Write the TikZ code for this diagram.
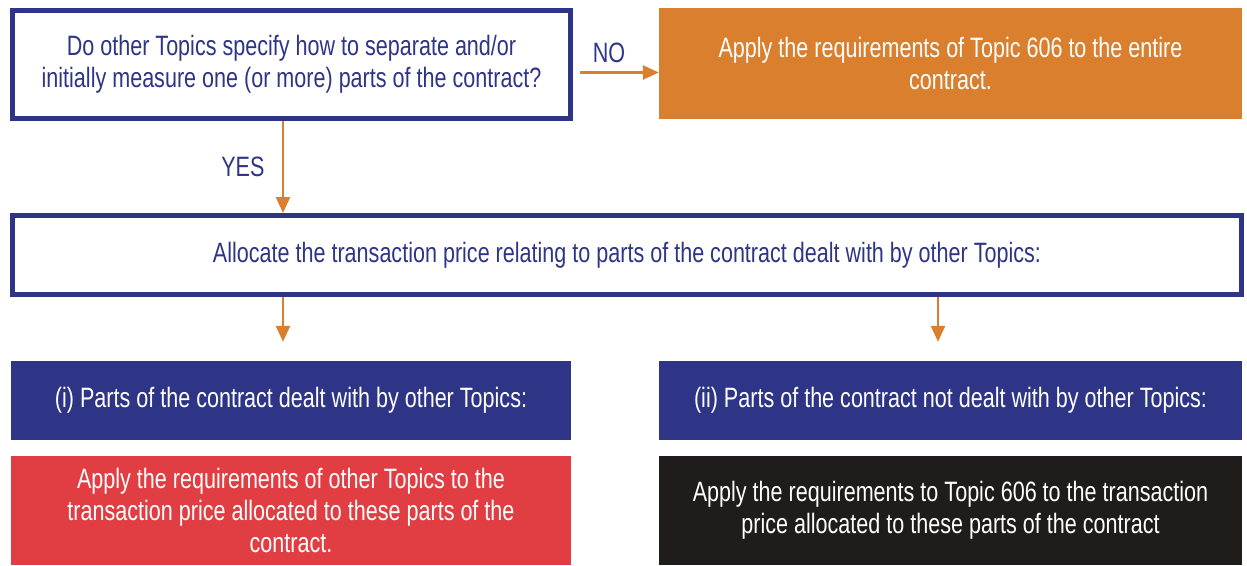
\documentclass[tikz,border=0pt]{standalone}
\usepackage{fontspec}
\setmainfont{Liberation Sans}[FakeStretch=0.77]
\usetikzlibrary{arrows.meta}
\definecolor{navy}{HTML}{2E3586}
\definecolor{amber}{HTML}{D97F2E}
\definecolor{brick}{HTML}{E03E43}
\definecolor{coal}{HTML}{1F1C1B}
\begin{document}
\begin{tikzpicture}[x=1pt,y=-1pt,
        font=\fontsize{28}{32}\selectfont,
        askbox/.style={draw=navy,line width=5pt,fill=white,text=navy,align=center},
        fillbox/.style={fill=#1,text=white,align=center,inner sep=0pt},
        flow/.style={draw=amber,line width=2.5pt,-{Triangle[length=16pt,width=14pt]}},
        tag/.style={text=navy}]
    \useasboundingbox (0,0) rectangle (1247,565);
    %% Question and the two answers
    \node[askbox,minimum width=558pt,minimum height=108pt] (Q) at (291.5,64.5)
        {Do other Topics specify how to separate and/or\\initially measure one (or more) parts of the contract?};
    \node[fillbox=amber,minimum width=583pt,minimum height=111pt] (O) at (950.5,63.5)
        {Apply the requirements of Topic 606 to the entire\\contract.};
    \node[askbox,minimum width=1229pt,minimum height=79pt] (A) at (627,255)
        {Allocate the transaction price relating to parts of the contract dealt with by other Topics:};
    %% Split into the two parts
    \node[fillbox=navy,minimum width=560pt,minimum height=79pt] (L) at (291,400.5)
        {(i) Parts of the contract dealt with by other Topics:};
    \node[fillbox=navy,minimum width=583pt,minimum height=79pt] (R) at (950.5,400.5)
        {(ii) Parts of the contract not dealt with by other Topics:};
    \node[fillbox=brick,minimum width=560pt,minimum height=109pt] (LA) at (291,510.5)
        {Apply the requirements of other Topics to the\\transaction price allocated to these parts of the\\contract.};
    \node[fillbox=coal,minimum width=583pt,minimum height=109pt] (RA) at (950.5,510.5)
        {Apply the requirements to Topic 606 to the transaction\\price allocated to these parts of the contract};
    %% Arrows
    \draw[flow,shorten <=7pt] ([yshift=-8pt]Q.east) -- ([yshift=-8pt]Q.east -| O.west)
        node[tag,pos=0.42,above=5pt] {NO};
    \draw[flow] ([xshift=-8.5pt]Q.south) -- ([xshift=-8.5pt]Q.south |- A.north)
        node[tag,pos=0.5,left=14pt] {YES};
    \draw[flow,shorten >=19pt] ([xshift=-344pt]A.south) -- ([xshift=-344pt]A.south |- L.north);
    \draw[flow,shorten >=19pt] ([xshift=311pt]A.south) -- ([xshift=311pt]A.south |- R.north);
\end{tikzpicture}
\end{document}
